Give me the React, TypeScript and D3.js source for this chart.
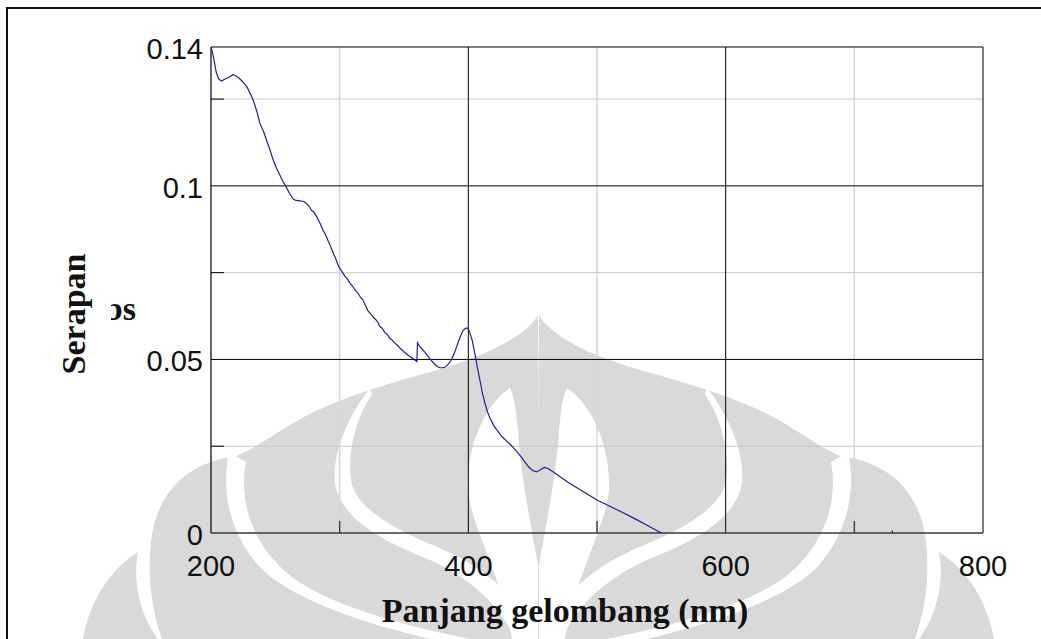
import React from 'react';
import * as d3 from 'd3';

// wavelength (nm) and absorbance
const wavelength = [
  200, 202, 204, 206, 208, 211, 214, 217, 219, 222, 225, 228, 231, 233, 236, 238, 241, 243, 246, 248,
  251, 253, 256, 258, 261, 264, 266, 269, 272, 274, 276, 278, 280, 282, 285, 287, 289, 291, 293, 295,
  297, 298, 300, 302, 304, 306, 308, 310, 312, 314, 316, 318, 320, 322, 324, 326, 328, 330, 331, 333,
  335, 337, 339, 341, 343, 345, 347, 350, 353, 356, 358, 360, 360.5, 362, 364, 366, 368, 370, 372, 374,
  376, 378, 380, 382, 384, 386, 388, 390, 392, 394, 396, 398, 399.5, 401, 403, 405, 407, 409, 411, 413,
  415, 417, 420, 423, 426, 430, 434, 438, 441, 444, 447, 450, 453, 456, 459, 462, 466, 471, 478, 485,
  492, 500, 510, 520, 530, 540, 550, 560, 600, 650, 700, 728, 729.5, 731, 760, 800,
];
const absorbance = [
  0.14, 0.137, 0.1328, 0.1308, 0.1302, 0.1308, 0.1313, 0.132, 0.1318, 0.131, 0.1298, 0.1285, 0.1262, 0.1245, 0.121, 0.118, 0.1155, 0.1133, 0.1102, 0.1078,
  0.105, 0.1035, 0.1012, 0.1, 0.0978, 0.0962, 0.0958, 0.0957, 0.0955, 0.095, 0.0942, 0.093, 0.0924, 0.0912, 0.089, 0.0873, 0.086, 0.0842, 0.0825, 0.0806,
  0.079, 0.0779, 0.0762, 0.0752, 0.074, 0.0732, 0.072, 0.0711, 0.07, 0.0692, 0.068, 0.0672, 0.0656, 0.064, 0.0632, 0.0622, 0.0615, 0.0605, 0.0596, 0.059,
  0.0578, 0.0572, 0.0561, 0.0555, 0.0547, 0.054, 0.0532, 0.0522, 0.0513, 0.0505, 0.05, 0.0494, 0.0548, 0.0538, 0.053, 0.0522, 0.0512, 0.0503, 0.0494, 0.0486,
  0.0479, 0.0476, 0.0476, 0.0478, 0.0485, 0.0494, 0.0508, 0.0527, 0.0548, 0.0568, 0.0584, 0.059, 0.059, 0.058, 0.0555, 0.0518, 0.0478, 0.044, 0.0402, 0.0372,
  0.0348, 0.033, 0.0308, 0.0293, 0.0278, 0.0264, 0.025, 0.0233, 0.022, 0.0204, 0.019, 0.018, 0.0176, 0.0182, 0.0189, 0.0186, 0.0176, 0.0163, 0.0145, 0.0129,
  0.0113, 0.0095, 0.0077, 0.0059, 0.004, 0.002, 0, -0.002, -0.008, -0.012, -0.014, -0.015, 0.0008, -0.015, -0.016, -0.017,
];

const xMajor = [400, 600];
const xMinor = [300, 500, 700];
const xLabels = [200, 400, 600, 800];
const yMajor = [0.05, 0.1];
const yMinor = [0.025, 0.075, 0.125];
const yLabels = [0, 0.05, 0.1, 0.14];

// watermark (left half, mirrored for the right)
const wmGrey = [
  'M538,315 C525,338 480,358 430,372 C390,383 330,400 290,425 C262,442 244,455 232,457 C195,462 160,485 152,535 C146,575 152,610 162,639 L540,639 Z',
  'M83,639 C90,600 110,570 138,552 C132,585 142,618 158,639 Z',
];
const wmWhite = [
  'M229,452 C220,495 232,535 258,565 C285,595 350,620 430,639 L470,639 C400,625 330,605 292,577 C255,548 238,505 246,462 Z',
  'M370,388 C345,420 330,460 336,488 C345,520 380,540 430,560 C470,578 500,605 515,639 L535,639 C520,600 490,570 440,548 C395,530 360,510 352,485 C346,455 355,420 372,394 Z',
  'M510,388 C490,400 466,440 468,490 C472,530 500,570 512,639 L538,639 L538,565 C530,520 520,470 518,430 C516,410 514,395 510,388 Z',
];

export default function App() {
  const W = 1041;
  const H = 639;
  const m = { left: 211, right: 983, top: 47, bottom: 533 };

  const x = d3.scaleLinear().domain([200, 800]).range([m.left, m.right]);
  const y = d3.scaleLinear().domain([0, 0.14]).range([m.bottom, m.top]);

  const pts = wavelength.map((w, i) => [w, absorbance[i]] as [number, number]);
  const line = d3
    .line<[number, number]>()
    .x((d) => x(d[0]))
    .y((d) => y(d[1]));

  const tickFont = '"Liberation Sans", Arial, sans-serif';
  const titleFont = '"Liberation Serif", "Times New Roman", serif';

  return (
    <div>
      <style>{'body{margin:0}'}</style>
      <svg width={W} height={H} style={{ display: 'block' }}>
        <rect width={W} height={H} fill="#fff" />
        <defs>
          <clipPath id="plot">
            <rect x={m.left} y={m.top} width={m.right - m.left} height={m.bottom - m.top} />
          </clipPath>
          <clipPath id="abs">
            <rect x={111} y={290} width={40} height={40} />
          </clipPath>
        </defs>

        {/* watermark */}
        <g fill="#d9d9d9">
          {wmGrey.map((d, i) => (
            <path key={'g' + i} d={d} />
          ))}
          <g transform="translate(1077,0) scale(-1,1)">
            {wmGrey.map((d, i) => (
              <path key={'gm' + i} d={d} />
            ))}
          </g>
        </g>
        <g fill="#fff">
          {wmWhite.map((d, i) => (
            <path key={'w' + i} d={d} />
          ))}
          <g transform="translate(1077,0) scale(-1,1)">
            {wmWhite.map((d, i) => (
              <path key={'wm' + i} d={d} />
            ))}
          </g>
        </g>

        {/* outer frame */}
        <line x1={7} x2={W} y1={8} y2={8} stroke="#111" strokeWidth={2} />
        <line x1={7} x2={7} y1={7} y2={H} stroke="#111" strokeWidth={2} />

        {/* minor grid */}
        {xMinor.map((v) => (
          <line key={'xm' + v} x1={x(v)} x2={x(v)} y1={m.top} y2={m.bottom} stroke="#d6d6d6" strokeWidth={1.5} />
        ))}
        {yMinor.map((v) => (
          <line key={'ym' + v} x1={m.left} x2={m.right} y1={y(v)} y2={y(v)} stroke="#c8c8c8" strokeWidth={1} />
        ))}
        {/* major grid */}
        {xMajor.map((v) => (
          <line key={'xM' + v} x1={x(v)} x2={x(v)} y1={m.top} y2={m.bottom} stroke="#000" strokeWidth={1} />
        ))}
        {yMajor.map((v) => (
          <line key={'yM' + v} x1={m.left} x2={m.right} y1={y(v)} y2={y(v)} stroke="#000" strokeWidth={1} />
        ))}

        {/* minor ticks */}
        {yMinor.map((v) => (
          <line key={'yt' + v} x1={m.left} x2={m.left + 13} y1={y(v)} y2={y(v)} stroke="#000" strokeWidth={1} />
        ))}
        {xMinor.map((v) => (
          <line key={'xt' + v} x1={x(v)} x2={x(v)} y1={m.bottom} y2={m.bottom - 12} stroke="#444" strokeWidth={1.5} />
        ))}

        {/* plot frame */}
        <line x1={m.left} x2={m.right} y1={m.top} y2={m.top} stroke="#000" strokeWidth={1.2} />
        <line x1={m.right} x2={m.right} y1={m.top} y2={m.bottom} stroke="#222" strokeWidth={1.2} />
        <line x1={m.left} x2={m.left} y1={m.top} y2={m.bottom} stroke="#000" strokeWidth={1.2} />
        <line x1={m.left} x2={m.right} y1={m.bottom} y2={m.bottom} stroke="#3a3a3a" strokeWidth={1.6} />

        {/* spectrum */}
        <path d={line(pts) || ''} fill="none" stroke="#1f1f95" strokeWidth={1.2} clipPath="url(#plot)" />

        {/* tick labels */}
        {yLabels.map((v) => (
          <text key={'yl' + v} x={203} y={y(v) + 12} textAnchor="end" fontFamily={tickFont} fontSize={29} fill="#111">
            {String(v)}
          </text>
        ))}
        {xLabels.map((v) => (
          <text key={'xl' + v} x={x(v)} y={576} textAnchor="middle" fontFamily={tickFont} fontSize={29} fill="#111">
            {String(v)}
          </text>
        ))}

        {/* axis titles */}
        <text x={565} y={622} textAnchor="middle" fontFamily={titleFont} fontWeight="bold" fontSize={34} fill="#111">
          Panjang gelombang (nm)
        </text>
        <text
          transform="translate(85,314) rotate(-90)"
          textAnchor="middle"
          fontFamily={titleFont}
          fontWeight="bold"
          fontSize={34}
          fill="#111"
        >
          Serapan
        </text>
        <text x={136} y={320} textAnchor="end" fontFamily={titleFont} fontWeight="bold" fontSize={34} fill="#111" clipPath="url(#abs)">
          Abs
        </text>
      </svg>
    </div>
  );
}
